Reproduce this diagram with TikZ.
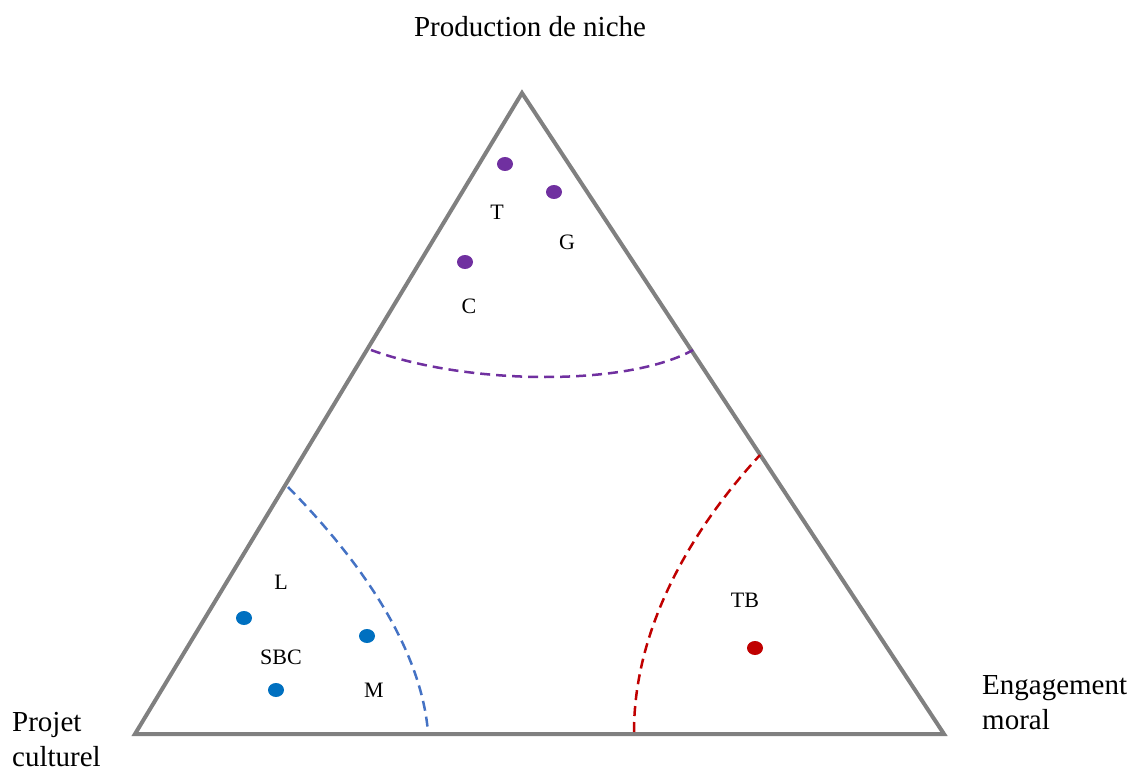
\documentclass[tikz,border=0pt]{standalone}
\usepackage{fontspec}
\setmainfont{Liberation Serif}
\usetikzlibrary{shapes.geometric}
\definecolor{edgegray}{RGB}{128,128,128}
\definecolor{nichepurple}{RGB}{112,48,160}
\definecolor{culturblue}{RGB}{0,112,192}
\definecolor{arcblue}{RGB}{68,114,196}
\definecolor{moralred}{RGB}{192,0,0}
\begin{document}
\begin{tikzpicture}[x=1pt, y=-1pt,
    corner/.style={font=\fontsize{29}{35}\selectfont, inner sep=0pt, align=left},
    firm/.style={font=\fontsize{22}{26}\selectfont, inner sep=0pt},
    dot/.style={ellipse, minimum width=16pt, minimum height=14pt, inner sep=0pt},
    zone/.style={line width=2.5pt, dash pattern=on 10pt off 6pt}
]
\useasboundingbox (0,0) rectangle (1144,773);

% Triangle
\coordinate (top) at (522,93);
\coordinate (left) at (135,734);
\coordinate (right) at (944,734);
\draw[edgegray, line width=4pt] (top) -- (left) -- (right) -- cycle;

% Corner labels
\node[corner] (niche) at (530,27) {Production de niche};
\node[corner, anchor=north west] (culture) at (12,712) {Projet\\culturel};
\node[corner, anchor=north west] (moral) at (982,675) {Engagement\\moral};

% Zones
\draw[zone, nichepurple] (371,350) .. controls (470,386) and (629,386) .. (693,350);
\draw[zone, arcblue] (288,487) .. controls (350,550) and (420,640) .. (428,732);
\draw[zone, moralred] (634,732) .. controls (634,620) and (700,520) .. (760,455);

% Firms
\node[dot, fill=nichepurple] (dotT) at (505,164) {};
\node[dot, fill=nichepurple] (dotG) at (554,192) {};
\node[dot, fill=nichepurple] (dotC) at (465,262) {};
\node[firm] (T) at (497,212) {T};
\node[firm] (G) at (567,242) {G};
\node[firm] (C) at (469,306) {C};

\node[dot, fill=culturblue] (dotL) at (244,618) {};
\node[dot, fill=culturblue] (dotM) at (367,636) {};
\node[dot, fill=culturblue] (dotSBC) at (276,690) {};
\node[firm] (L) at (281,582) {L};
\node[firm] (SBC) at (281,657) {SBC};
\node[firm] (M) at (374,690) {M};

\node[dot, fill=moralred] (dotTB) at (755,648) {};
\node[firm] (TB) at (745,600) {TB};

\end{tikzpicture}
\end{document}
